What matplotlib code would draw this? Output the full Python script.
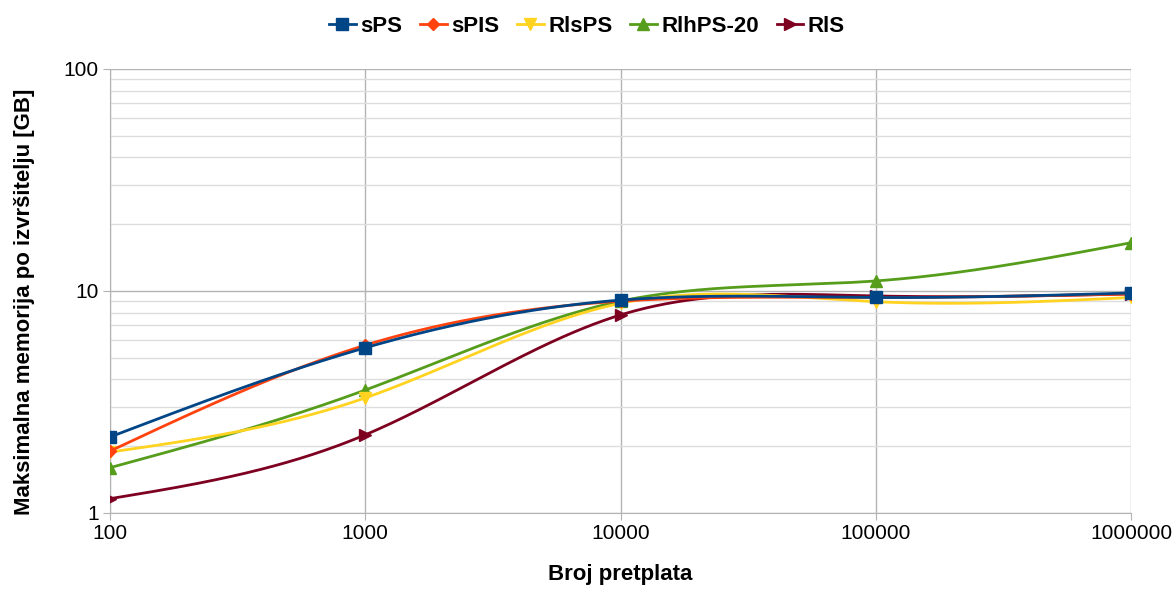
import numpy as np
import matplotlib
matplotlib.use("Agg")
import matplotlib.pyplot as plt
from matplotlib.ticker import FixedLocator, NullFormatter, LogLocator

x_vals = [100, 1000, 10000, 100000, 1000000]
x_labels = ["100", "1000", "10000", "100000", "1000000"]
series_names = ["sPS", "sPIS", "RlsPS", "RlhPS-20", "RlS"]
sPS = [2.2, 5.55, 9.1, 9.35, 9.8]
sPIS = [1.9, 5.7, 9.0, 9.35, 9.7]
RlsPS = [1.88, 3.3, 8.8, 8.95, 9.35]
RlhPS_20 = [1.6, 3.58, 9.0, 11.1, 16.5]
RlS = [1.16, 2.25, 7.8, 9.5, 9.7]
colors = ["#004586", "#ff420e", "#ffd320", "#579d1c", "#7e0021"]
markers = ["s", "D", "v", "^", ">"]
msizes = [8, 6.5, 8, 8, 8]

plt.rcParams['font.family'] = ['Liberation Sans', 'DejaVu Sans']


def natural_spline(xs, ys, xq):
    xs = np.asarray(xs, float); ys = np.asarray(ys, float)
    n = len(xs)
    h = np.diff(xs)
    A = np.zeros((n, n)); b = np.zeros(n)
    A[0, 0] = 1; A[-1, -1] = 1
    for i in range(1, n - 1):
        A[i, i - 1] = h[i - 1]
        A[i, i] = 2 * (h[i - 1] + h[i])
        A[i, i + 1] = h[i]
        b[i] = 3 * ((ys[i + 1] - ys[i]) / h[i] - (ys[i] - ys[i - 1]) / h[i - 1])
    c = np.linalg.solve(A, b)
    out = np.empty_like(xq)
    for k, x in enumerate(xq):
        i = min(max(np.searchsorted(xs, x) - 1, 0), n - 2)
        dx = x - xs[i]
        bi = (ys[i + 1] - ys[i]) / h[i] - h[i] * (2 * c[i] + c[i + 1]) / 3
        di = (c[i + 1] - c[i]) / (3 * h[i])
        out[k] = ys[i] + bi * dx + c[i] * dx ** 2 + di * dx ** 3
    return out


fig = plt.figure(figsize=(11.74, 5.89), dpi=100)
ax = fig.add_axes([110 / 1174, 76 / 589, 1021 / 1174, 444 / 589])
ax.set_xscale('log'); ax.set_yscale('log')
ax.set_xlim(100, 1000000); ax.set_ylim(1, 100)

lx = np.log10(x_vals)
xq = np.linspace(lx[0], lx[-1], 400)
all_series = [sPS, sPIS, RlsPS, RlhPS_20, RlS]
nser = len(all_series)
for idx, (name, ys, c, m, ms) in enumerate(zip(series_names, all_series, colors, markers, msizes)):
    z = 3 + 2 * (nser - idx)
    yq = natural_spline(lx, np.log10(ys), xq)
    ax.plot(10 ** xq, 10 ** yq, color=c, lw=2.0, zorder=z)
    ax.plot(x_vals, ys, linestyle='none', marker=m, color=c, markersize=ms, zorder=z + 1)
    ax.plot([], [], color=c, lw=2.0, marker=m, markersize=ms, label=name)

ax.xaxis.set_major_locator(FixedLocator(x_vals))
ax.set_xticklabels(x_labels)
ax.xaxis.set_minor_locator(FixedLocator([]))
ax.yaxis.set_major_locator(FixedLocator([1, 10, 100]))
ax.set_yticklabels(["1", "10", "100"])
ax.yaxis.set_minor_locator(LogLocator(base=10, subs=np.arange(2, 10)))
ax.yaxis.set_minor_formatter(NullFormatter())

ax.grid(True, which='major', color='#b3b3b3', lw=1.0, zorder=0)
ax.grid(True, which='minor', axis='y', color='#dddddd', lw=1.0, zorder=0)
ax.set_axisbelow(True)
for s in ['top', 'right']:
    ax.spines[s].set_visible(False)
for s in ['left', 'bottom']:
    ax.spines[s].set_color('#b3b3b3')
ax.tick_params(axis='both', which='major', color='#b3b3b3', length=5, labelsize=15,
               labelcolor='#000000', pad=3)
ax.tick_params(axis='y', which='minor', length=0)

ax.set_xlabel("Broj pretplata", fontsize=16, fontweight='bold', labelpad=15)
ax.set_ylabel("Maksimalna memorija po izvršitelju [GB]", fontsize=16, fontweight='bold',
              labelpad=21, y=0.475)

fig.legend(loc='center', bbox_to_anchor=(0.5, 1 - 26 / 589), ncol=5, frameon=False,
           prop={'size': 16, 'weight': 'bold'}, handlelength=1.2, handletextpad=0.2,
           columnspacing=0.8)

fig.savefig("out.png", dpi=100)
